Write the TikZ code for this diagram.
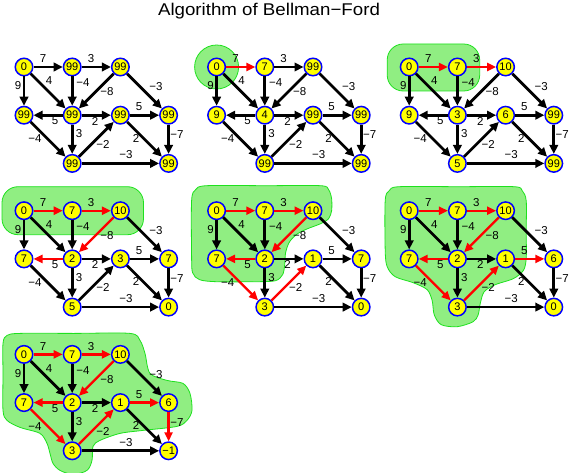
\documentclass[tikz,border=0pt]{standalone}
\usepackage{fontspec}
\setmainfont{Liberation Sans}
\usetikzlibrary{arrows.meta}
\definecolor{nodeyellow}{RGB}{255,255,0}
\definecolor{nodeblue}{RGB}{0,0,255}
\definecolor{blobfill}{RGB}{144,238,130}
\definecolor{blobline}{RGB}{30,225,30}
\definecolor{treered}{RGB}{255,0,0}
\newcommand\gu{48.2}
% nodes of a panel: #1 prefix, then values via \def
\newcommand\mknodes[1]{%
  \node[vert] (#1A) at (0,0) {\vA};
  \node[vert] (#1B) at (\gu,0) {\vB};
  \node[vert] (#1C) at (2*\gu,0) {\vC};
  \node[vert] (#1D) at (0,\gu) {\vD};
  \node[vert] (#1E) at (\gu,\gu) {\vE};
  \node[vert] (#1F) at (2*\gu,\gu) {\vF};
  \node[vert] (#1G) at (3*\gu,\gu) {\vG};
  \node[vert] (#1H) at (\gu,2*\gu) {\vH};
  \node[vert] (#1I) at (3*\gu,2*\gu) {\vI};
}
\newcommand\setvals[9]{\def\vA{#1}\def\vB{#2}\def\vC{#3}\def\vD{#4}\def\vE{#5}\def\vF{#6}\def\vG{#7}\def\vH{#8}\def\vI{#9}}
\newcommand\mklabels[1]{%
  \node[lbl] (#1l1) at (19,-8) {7};
  \node[lbl] (#1l2) at (67,-8) {3};
  \node[lbl] (#1l3) at (-6,19) {9};
  \node[lbl] (#1l4) at (25,14) {4};
  \node[lbl] (#1l5) at (59,16) {−4};
  \node[lbl] (#1l6) at (83,25) {−8};
  \node[lbl] (#1l7) at (132,20) {−3};
  \node[lbl] (#1l8) at (31,54) {5};
  \node[lbl] (#1l9) at (71,54) {2};
  \node[lbl] (#1l10) at (115,40) {5};
  \node[lbl] (#1l11) at (55,67) {3};
  \node[lbl] (#1l12) at (11,72) {−4};
  \node[lbl] (#1l13) at (79,77) {−2};
  \node[lbl] (#1l14) at (112,71) {2};
  \node[lbl] (#1l15) at (153,68) {−7};
  \node[lbl] (#1l16) at (102,88) {−3};
}
\begin{document}
\begin{tikzpicture}[x=1pt,y=-1pt,
  vert/.style={circle,fill=nodeyellow,draw=nodeblue,line width=1.5pt,minimum size=17.5pt,inner sep=0pt,font=\fontsize{11}{11}\selectfont},
  blackarr/.style={line width=2.7pt,-{Triangle[length=9pt,width=8.5pt]}},
  redarr/.style={draw=treered,line width=2.3pt,-{Triangle[length=9pt,width=8pt]}},
  lbl/.style={inner sep=0pt,font=\fontsize{11.5}{11.5}\selectfont},
  blob/.style={fill=blobfill,draw=blobline,line width=0.8pt}]
\useasboundingbox (0,0) rectangle (570,473);
\node[anchor=base,inner sep=0pt,font=\fontsize{17}{17}\selectfont] (title) at (269,16) {\scalebox{1.1}[1]{Algorithm of Bellman−Ford}};

% Panel 1
\begin{scope}[shift={(24,67)}]
\setvals{0}{99}{99}{99}{99}{99}{99}{99}{99}
\mknodes{p1}
\foreach \s/\t in {A/B,A/D,A/E,B/C,B/E,C/E,C/G,E/D,E/F,E/H,D/H,H/F,F/G,F/I,G/I,H/I}
  \draw[blackarr] (p1\s) -- (p1\t);
\mklabels{p1}
\end{scope}

% Panel 2
\begin{scope}[shift={(216.6,67)}]
\filldraw[blob] (0,0) circle[radius=22];
\setvals{0}{7}{99}{9}{4}{99}{99}{99}{99}
\mknodes{p2}
\foreach \s/\t in {A/D,A/E,B/C,B/E,C/E,C/G,E/D,E/F,E/H,D/H,H/F,F/G,F/I,G/I,H/I}
  \draw[blackarr] (p2\s) -- (p2\t);
\foreach \s/\t in {A/B}
  \draw[redarr] (p2\s) -- (p2\t);
\mklabels{p2}
\end{scope}

% Panel 3
\begin{scope}[shift={(409.2,67)}]
\filldraw[blob,rounded corners=16pt] (-22,-23) rectangle (70.5,24);
\setvals{0}{7}{10}{9}{3}{6}{99}{5}{99}
\mknodes{p3}
\foreach \s/\t in {A/D,A/E,B/E,C/E,C/G,E/D,E/F,E/H,D/H,H/F,F/G,F/I,G/I,H/I}
  \draw[blackarr] (p3\s) -- (p3\t);
\foreach \s/\t in {A/B,B/C}
  \draw[redarr] (p3\s) -- (p3\t);
\mklabels{p3}
\end{scope}

% Panel 4
\begin{scope}[shift={(24,210.7)}]
\filldraw[blob,rounded corners=16pt] (-22,-24) rectangle (119.5,24);
\setvals{0}{7}{10}{7}{2}{3}{7}{5}{0}
\mknodes{p4}
\foreach \s/\t in {A/D,A/E,B/E,C/G,E/F,E/H,D/H,H/F,F/G,F/I,G/I,H/I}
  \draw[blackarr] (p4\s) -- (p4\t);
\foreach \s/\t in {A/B,B/C,C/E,E/D}
  \draw[redarr] (p4\s) -- (p4\t);
\mklabels{p4}
\end{scope}

% Panel 5
\begin{scope}[shift={(216.6,210.7)}]
\filldraw[blob] plot[smooth cycle,tension=0.5] coordinates {(-25,-10) (-21,-21) (-10,-25) (50,-25) (104,-25) (112,-21) (115,-12) (115,0) (112,8) (104,13) (91,18) (81,23) (73,31) (69,42) (68,55) (66,64) (59,70) (40,71) (0,71) (-17,69) (-24,62) (-25,45)};
\setvals{0}{7}{10}{7}{2}{1}{7}{3}{0}
\mknodes{p5}
\foreach \s/\t in {A/D,A/E,B/E,C/G,E/F,E/H,F/G,F/I,G/I,H/I}
  \draw[blackarr] (p5\s) -- (p5\t);
\foreach \s/\t in {A/B,B/C,C/E,E/D,D/H,H/F}
  \draw[redarr] (p5\s) -- (p5\t);
\mklabels{p5}
\end{scope}

% Panel 6
\begin{scope}[shift={(409.2,210.7)}]
\filldraw[blob] plot[smooth cycle,tension=0.5] coordinates {(-24,-10) (-20,-20) (-10,-24) (50,-24) (105,-24) (113,-20) (117,-10) (117,20) (117,48) (114,60) (104,68) (86,74) (75,81) (71,93) (69,104) (64,111) (48,116) (32,114) (25,104) (23,90) (18,79) (4,72) (-14,66) (-22,56) (-24,40)};
\setvals{0}{7}{10}{7}{2}{1}{6}{3}{0}
\mknodes{p6}
\foreach \s/\t in {A/D,A/E,B/E,C/G,E/F,E/H,F/I,G/I,H/I}
  \draw[blackarr] (p6\s) -- (p6\t);
\foreach \s/\t in {A/B,B/C,C/E,E/D,D/H,H/F,F/G}
  \draw[redarr] (p6\s) -- (p6\t);
\mklabels{p6}
\end{scope}

% Panel 7
\begin{scope}[shift={(24,354.4)}]
\filldraw[blob] plot[smooth cycle,tension=0.5] coordinates {(-21,-11) (-17,-19) (-4,-21) (50,-21) (106,-21) (116,-14) (121,-1) (126,19) (143,26) (159,29) (166,39) (168,56) (163,66) (153,72) (119,76) (96,79) (76,86) (69,92) (68,106) (63,116) (49,120) (36,116) (29,109) (26,99) (23,89) (16,79) (-4,73) (-17,66) (-21,56) (-21,20)};
\setvals{0}{7}{10}{7}{2}{1}{6}{3}{−1}
\mknodes{p7}
\foreach \s/\t in {A/D,A/E,B/E,C/G,E/F,E/H,F/I,H/I}
  \draw[blackarr] (p7\s) -- (p7\t);
\foreach \s/\t in {A/B,B/C,C/E,E/D,D/H,H/F,F/G,G/I}
  \draw[redarr] (p7\s) -- (p7\t);
\mklabels{p7}
\end{scope}
\end{tikzpicture}
\end{document}
